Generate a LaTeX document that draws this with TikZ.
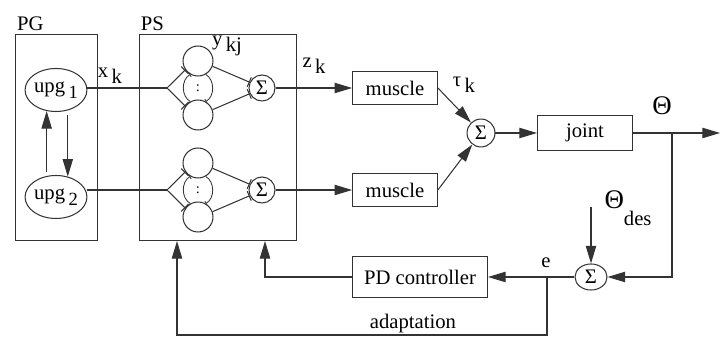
\documentclass[tikz,border=0pt]{standalone}
\usepackage{fontspec}
\setmainfont{Liberation Serif}
\usepackage{tikz}
\usetikzlibrary{arrows.meta, shapes.geometric, positioning}
\newcommand{\lowsub}[1]{\,\raisebox{-0.6ex}{#1}}
\newcommand{\bigtheta}{{\fontsize{13}{15}\selectfont Θ}}
\tikzset{
	blocknode/.style={
			rectangle,
			draw=black!80,
			line width=0.5pt,
			inner sep=0pt
		},
	groupbox/.style={
			blocknode,
			minimum height=100.1pt
		},
	unitnode/.style={
			ellipse,
			draw=black!80,
			line width=0.5pt,
			minimum width=28pt,
			minimum height=20.8pt,
			inner sep=0pt
		},
	neuronnode/.style={
			circle,
			draw=black!80,
			line width=0.5pt,
			minimum size=14.5pt,
			inner sep=0pt
		},
	sumnode/.style={
			ellipse,
			draw=black!80,
			line width=0.5pt,
			minimum width=12.6pt,
			minimum height=12.6pt,
			inner sep=0pt
		},
	labelnode/.style={
			inner sep=1pt
		},
	conn/.style={
			draw=black!80,
			line width=0.5pt
		},
	arr/.style={
			conn,
			-{Triangle[length=8.5pt,width=5pt]}
		},
	inh/.style={
			conn,
			-{Bar[width=5pt]}
		},
	inhsmall/.style={
			conn,
			line width=0.4pt,
			-{Bar[width=2.5pt]}
		}
}

\begin{document}
\begin{tikzpicture}[x=0.4837pt, y=-0.4837pt, font=\rmfamily]
\useasboundingbox (0,0) rectangle (722,339);

\node[groupbox, minimum width=40.1pt] (pg) at (56.5,137.5) {};
\node[groupbox, minimum width=76.4pt] (ps) at (218,137.5) {};
\node[labelnode, anchor=south west] (pglbl) at (pg.north west) {PG};
\node[labelnode, anchor=south west] (pslbl) at (ps.north west) {PS};

\node[unitnode] (u1) at (56,90) {upg\lowsub{\small 1}};
\node[unitnode] (u2) at (56,197) {upg\lowsub{\small 2}};
\draw[arr, shorten <=2pt] (u2.114) -- (u1.246);
\draw[arr, shorten <=2pt] (u1.300) -- (u2.60);

\coordinate (f1) at (167,88);
\coordinate (f2) at (167,190);
\node[neuronnode] (n1a) at (198,61) {};
\node[neuronnode] (n1b) at (198,115) {};
\node[neuronnode] (n2a) at (198,163) {};
\node[neuronnode] (n2b) at (198,217) {};
\node[sumnode] (s1) at (262,88) {Σ};
\node[sumnode] (s2) at (262,190) {Σ};
\node[labelnode, font=\scriptsize] (c1) at (198,88) {:};
\node[labelnode, font=\scriptsize] (c2) at (198,190) {:};

\draw[conn] (u1.east |- f1) -- (f1);
\draw[conn] (u2.east |- f2) -- (f2);
\draw[inh] (f1) -- (n1a.215);
\draw[inh] (f1) -- (n1b.145);
\draw[inh] (f2) -- (n2a.215);
\draw[inh] (f2) -- (n2b.145);
\draw[inh] (n1a.-20) -- (s1.155);
\draw[inh] (n1b.20) -- (s1.205);
\draw[inh] (n2a.-20) -- (s2.155);
\draw[inh] (n2b.20) -- (s2.205);
\draw[inhsmall] (n1b.120) to[bend left=60] (n1a.240);
\draw[inhsmall] (n1a.300) to[bend left=60] (n1b.60);
\draw[inhsmall] (n2b.120) to[bend left=60] (n2a.240);
\draw[inhsmall] (n2a.300) to[bend left=60] (n2b.60);

\node[blocknode, minimum width=41pt, minimum height=16.4pt] (m1) at (395,88) {muscle};
\node[blocknode, minimum width=41pt, minimum height=16.4pt] (m2) at (395,190) {muscle};
\node[sumnode, minimum width=13.5pt, minimum height=13.5pt] (st) at (481,133) {Σ};
\node[blocknode, minimum width=46pt, minimum height=17pt] (jt) at (585,133) {joint};
\coordinate (ob) at (672,133);
\coordinate (out) at (720,133);

\draw[arr] (s1) -- (m1);
\draw[arr] (s2) -- (m2);
\draw[arr] (m1.east) -- (st);
\draw[arr] (m2.east) -- (st);
\draw[arr] (st) -- (jt);
\draw[arr] (jt) -- (out);

\node[sumnode, minimum width=15.5pt, minimum height=12.6pt] (sd) at (591,277) {Σ};
\node[blocknode, minimum width=65.3pt, minimum height=19.4pt] (pd) at (420,277) {PD controller};
\coordinate (thd) at (591,207);
\coordinate (eb) at (547,277);
\coordinate (ac) at (547,335);
\coordinate (in1) at (177,241);
\coordinate (in2) at (265,241);

\draw[arr] (ob) |- (sd);
\draw[arr] (thd) -- (sd);
\draw[arr] (sd) -- (pd);
\draw[arr] (pd.west) -| (in2);
\draw[arr] (eb) -- (ac) -| (in1);

\node[labelnode] (xk) at (110,76) {x\lowsub{k}};
\node[labelnode] (ykj) at (227,46) {y\lowsub{kj}};
\node[labelnode] (zk) at (314,66) {z\lowsub{k}};
\node[labelnode] (tk) at (464,85) {τ\lowsub{k}};
\node[labelnode] (th) at (662,106) {\bigtheta};
\node[labelnode] (thdes) at (628,208) {\bigtheta\raisebox{-1.8ex}{des}};
\node[labelnode] (el) at (546,263) {e};
\node[labelnode, anchor=south] (adl) at (413,335) {adaptation};

\end{tikzpicture}
\end{document}
